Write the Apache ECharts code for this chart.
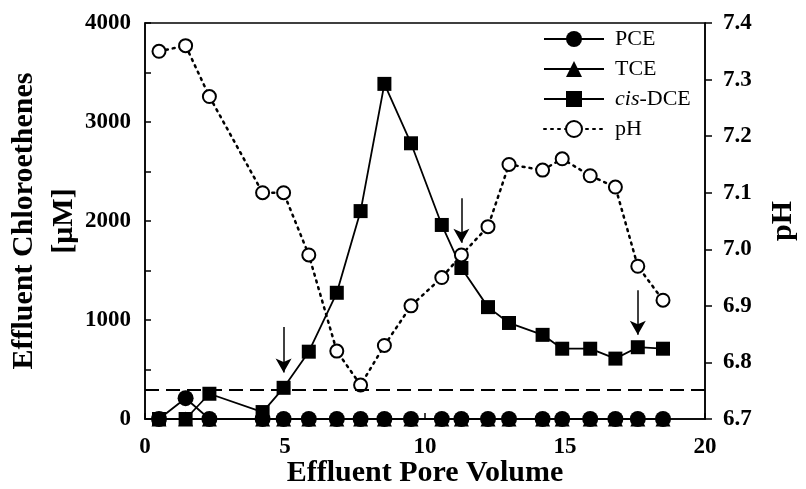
<!DOCTYPE html>
<html>
<head>
<meta charset="utf-8">
<script src="https://cdn.jsdelivr.net/npm/echarts@6/dist/echarts.min.js"></script>
<style>html,body{margin:0;padding:0;background:#fff}#c{width:806px;height:489px}</style>
</head>
<body>
<div id="c"></div>
<script>
var poreVolume = [0.5, 1.45, 2.3, 4.2, 4.95, 5.85, 6.85, 7.7, 8.55, 9.5, 10.6, 11.3, 12.25, 13.0, 14.2, 14.9, 15.9, 16.8, 17.6, 18.5];
var pce = [0, 210, 0, 0, 0, 0, 0, 0, 0, 0, 0, 0, 0, 0, 0, 0, 0, 0, 0, 0];
var tce = [0, 0, 0, 0, 0, 0, 0, 0, 0, 0, 0, 0, 0, 0, 0, 0, 0, 0, 0, 0];
var cisDce = [0, 0, 255, 70, 315, 680, 1275, 2100, 3385, 2785, 1960, 1525, 1130, 970, 850, 710, 710, 610, 725, 710];
var ph = [7.35, 7.36, 7.27, 7.10, 7.10, 6.99, 6.82, 6.76, 6.83, 6.90, 6.95, 6.99, 7.04, 7.15, 7.14, 7.16, 7.13, 7.11, 6.97, 6.91];
var threshold = 300;
var arrowX = [4.95, 11.3, 17.6];
var arrowTop = [930, 2230, 1300];
var arrowTip = [470, 1780, 850];

function pairs(xs, ys) { return xs.map(function (x, i) { return [x, ys[i]]; }); }

var serif = '"Liberation Serif", "Times New Roman", serif';
var chart = echarts.init(document.getElementById('c'));

var arrowLines = arrowX.map(function (x, i) {
  return [{ coord: [x, arrowTop[i]] }, { coord: [x, arrowTip[i]] }];
});

chart.setOption({
  animation: false,
  backgroundColor: '#fff',
  grid: { left: 145, right: 101, top: 23, bottom: 70, show: true, borderColor: '#000', borderWidth: 1.5,
    backgroundColor: 'transparent', containLabel: false, outerBoundsMode: 'none' },
  legend: {
    left: 543, top: 28, orient: 'vertical', padding: 0,
    itemWidth: 60, itemHeight: 20, itemGap: 8,
    data: ['PCE', 'TCE', 'cis-DCE', 'pH'],
    formatter: function (n) { return n === 'cis-DCE' ? '{i|cis}-DCE' : n; },
    textStyle: {
      fontFamily: serif, fontSize: 22, color: '#000', lineHeight: 20, padding: [0, 0, 0, 6],
      rich: { i: { fontStyle: 'italic', fontFamily: serif, fontSize: 22, color: '#000' } }
    }
  },
  xAxis: {
    type: 'value', min: 0, max: 20, interval: 5,
    name: 'Effluent Pore Volume', nameLocation: 'middle', nameGap: 39, nameMoveOverlap: false,
    nameTextStyle: { fontFamily: serif, fontWeight: 'bold', fontSize: 30, color: '#000' },
    axisLine: { lineStyle: { color: '#000', width: 1.5 } },
    axisTick: { inside: true, length: 6, lineStyle: { color: '#000', width: 1.5 } },
    axisLabel: { margin: 17, fontFamily: serif, fontWeight: 'bold', fontSize: 23, color: '#000',
      formatter: function (v) { return String(v); } },
    splitLine: { show: false }
  },
  yAxis: [{
    type: 'value', min: 0, max: 4000, interval: 1000, position: 'left',
    name: 'Effluent Chloroethenes\n[μM]', nameLocation: 'middle', nameGap: 61, nameRotate: 90, nameMoveOverlap: false,
    nameTextStyle: { fontFamily: serif, fontWeight: 'bold', fontSize: 30, color: '#000', lineHeight: 40 },
    axisLine: { show: true, lineStyle: { color: '#000', width: 1.5 } },
    axisTick: { inside: true, length: 6, lineStyle: { color: '#000', width: 1.5 } },
    minorTick: { show: true, splitNumber: 2, length: 6, lineStyle: { color: '#000', width: 1.5 } },
    axisLabel: { margin: 14, fontFamily: serif, fontWeight: 'bold', fontSize: 23, color: '#000',
      formatter: function (v) { return String(v); } },
    splitLine: { show: false }
  }, {
    type: 'value', min: 6.7, max: 7.4, interval: 0.1, position: 'right',
    name: 'pH', nameLocation: 'middle', nameGap: 63, nameRotate: 90, nameMoveOverlap: false,
    nameTextStyle: { fontFamily: serif, fontWeight: 'bold', fontSize: 30, color: '#000' },
    axisLine: { show: true, lineStyle: { color: '#000', width: 1.5 } },
    axisTick: { inside: false, length: 7, lineStyle: { color: '#000', width: 1.5 } },
    axisLabel: { margin: 18, fontFamily: serif, fontWeight: 'bold', fontSize: 23, color: '#000',
      formatter: function (v) { return v.toFixed(1); } },
    splitLine: { show: false }
  }],
  series: [{
    name: 'PCE', type: 'line', data: pairs(poreVolume, pce),
    symbol: 'circle', symbolSize: 16,
    itemStyle: { color: '#000' }, lineStyle: { color: '#000', width: 1.8 },
    markLine: {
      silent: true, symbol: ['none', 'none'], label: { show: false },
      lineStyle: { color: '#000', width: 2, type: [14, 7] },
      data: [{ yAxis: threshold }]
    }
  }, {
    name: 'TCE', type: 'line', data: pairs(poreVolume, tce),
    symbol: 'triangle', symbolSize: 15,
    itemStyle: { color: '#000' }, lineStyle: { color: '#000', width: 1.8 }
  }, {
    name: 'cis-DCE', type: 'line', data: pairs(poreVolume, cisDce),
    symbol: 'rect', symbolSize: 14,
    itemStyle: { color: '#000' }, lineStyle: { color: '#000', width: 1.8 },
    markLine: {
      silent: true, symbol: ['none', 'arrow'], symbolSize: [12, 14], label: { show: false },
      lineStyle: { color: '#000', width: 1.5, type: 'solid' },
      data: arrowLines
    }
  }, {
    name: 'pH', type: 'line', yAxisIndex: 1, data: pairs(poreVolume, ph),
    symbol: 'circle', symbolSize: 13,
    itemStyle: { color: '#fff', borderColor: '#000', borderWidth: 2 },
    lineStyle: { color: '#000', width: 2.5, type: [2, 5], cap: 'round' }
  }]
});
</script>
</body>
</html>
